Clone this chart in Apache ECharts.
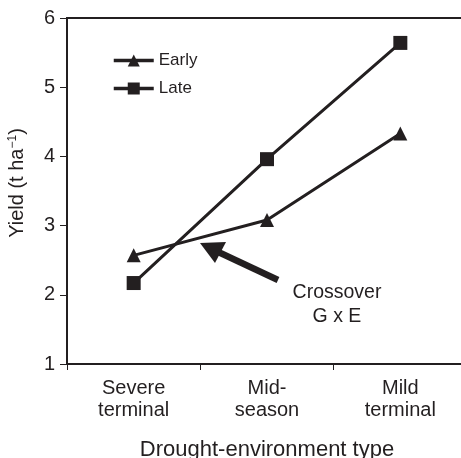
<!DOCTYPE html>
<html><head><meta charset="utf-8">
<script src="https://cdn.jsdelivr.net/npm/echarts@6/dist/echarts.min.js"></script>
<style>html,body{margin:0;padding:0;background:#fff}#c{width:461px;height:458px}</style>
</head><body><div id="c"></div>
<script>
var categories = ['Severe\nterminal', 'Mid-\nseason', 'Mild\nterminal'];
var earlyValues = [2.57, 3.08, 4.33];
var lateValues = [2.17, 3.96, 5.64];
var seriesNames = ['Early', 'Late'];
var yTicks = [1, 2, 3, 4, 5, 6];

var ink = '#231f20';
var font = 'Liberation Sans, Arial, sans-serif';
var chart = echarts.init(document.getElementById('c'));
chart.setOption({
  animation: false,
  grid: { left: 67, right: -6, top: 18, bottom: 94, show: true, borderColor: ink, borderWidth: 2,
          outerBoundsMode: 'none', containLabel: false },
  legend: {
    orient: 'vertical', left: 107, top: 47, itemGap: 11, itemWidth: 40, itemHeight: 15,
    textStyle: { fontFamily: font, fontSize: 17, color: ink },
    lineStyle: { width: 3.5 },
    data: [seriesNames[0], seriesNames[1]]
  },
  xAxis: {
    type: 'category', data: categories, boundaryGap: true,
    name: 'Drought-environment type', nameLocation: 'middle', nameGap: 75,
    nameTextStyle: { fontFamily: font, fontSize: 22, color: ink },
    axisLine: { lineStyle: { color: ink, width: 2 } },
    axisTick: { show: true, length: 6, lineStyle: { color: ink, width: 1 } },
    axisLabel: { fontFamily: font, fontSize: 20, color: ink, margin: 13, lineHeight: 22 },
    splitLine: { show: false }
  },
  yAxis: {
    type: 'value', min: yTicks[0], max: yTicks[yTicks.length - 1], interval: 1,
    name: '{a|Yield (t ha}{s|−1}{a|)}', nameLocation: 'middle', nameGap: 39, nameRotate: 90,
    nameTextStyle: { padding: [0, 0, 0, 16], rich: {
      a: { fontFamily: font, fontSize: 20, color: ink },
      s: { fontFamily: font, fontSize: 12, color: ink, verticalAlign: 'top', padding: [0, 0, 9, 0] }
    } },
    axisLine: { show: true, lineStyle: { color: ink, width: 2 } },
    axisTick: { show: true, length: 7, lineStyle: { color: ink, width: 1 } },
    axisLabel: { fontFamily: font, fontSize: 20, color: ink, margin: 12 },
    splitLine: { show: false }
  },
  series: [
    { name: seriesNames[0], type: 'line', data: earlyValues, symbol: 'triangle', symbolSize: 14,
      lineStyle: { color: ink, width: 3 }, itemStyle: { color: ink } },
    { name: seriesNames[1], type: 'line', data: lateValues, symbol: 'rect', symbolSize: 14,
      lineStyle: { color: ink, width: 3 }, itemStyle: { color: ink } }
  ],
  graphic: [
    { type: 'line', shape: { x1: 278, y1: 280, x2: 214, y2: 250 }, style: { stroke: ink, lineWidth: 6.5 } },
    { type: 'polygon', shape: { points: [[200, 243], [226, 242], [215, 263]] }, style: { fill: ink } },
    { type: 'text', x: 337, y: 293, style: { text: 'Crossover', fontFamily: font, fontSize: 19.5, fill: ink, align: 'center', verticalAlign: 'middle' } },
    { type: 'text', x: 337, y: 317, style: { text: 'G x E', fontFamily: font, fontSize: 19.5, fill: ink, align: 'center', verticalAlign: 'middle' } }
  ]
});
</script></body></html>
